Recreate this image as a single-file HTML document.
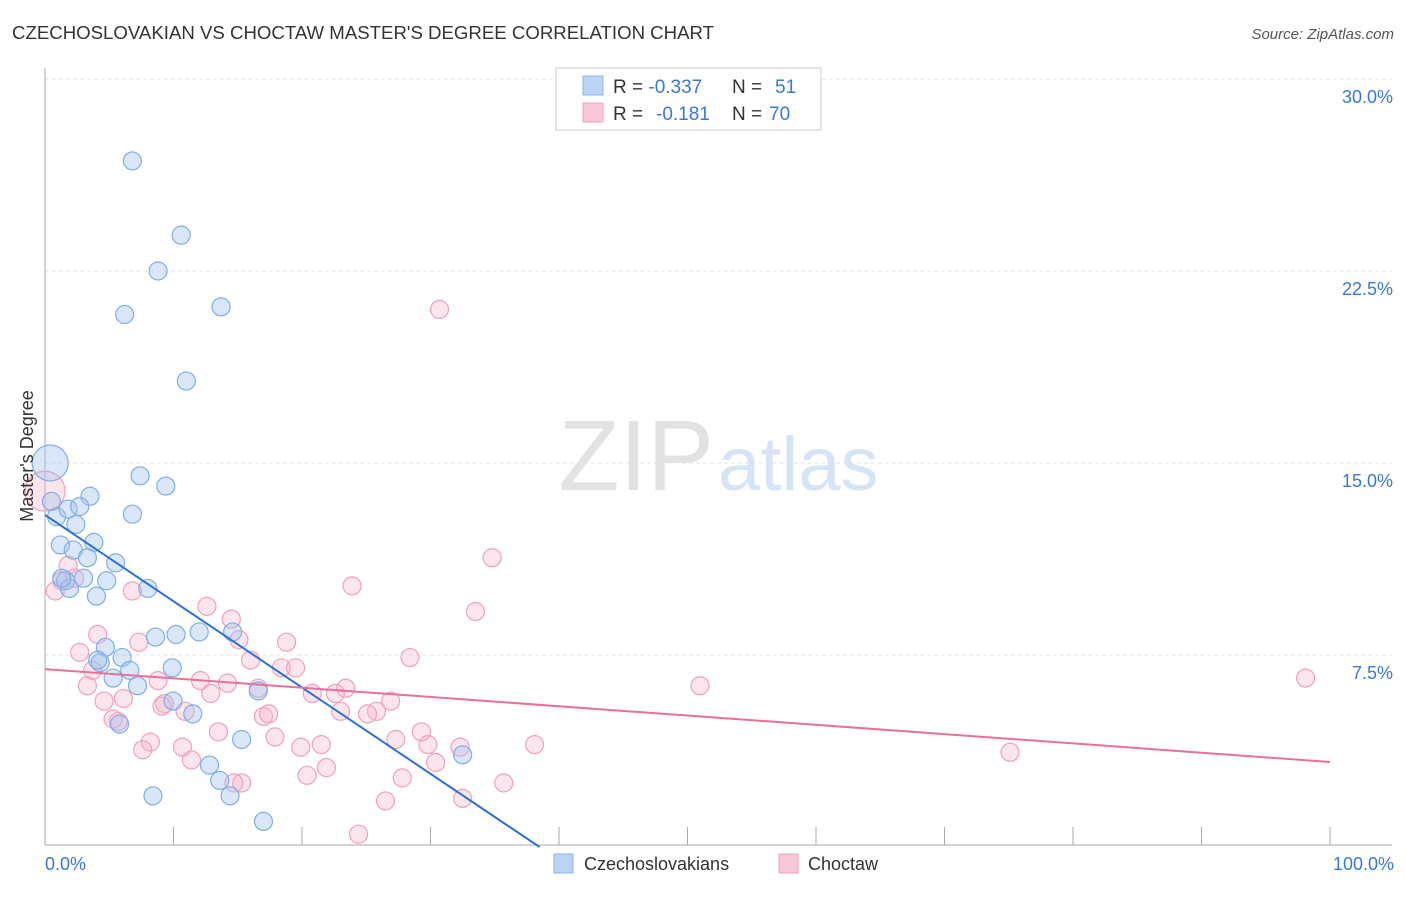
<!DOCTYPE html>
<html><head><meta charset="utf-8"><style>
body{margin:0;background:#fff;font-family:"Liberation Sans",sans-serif;}
svg text{font-family:"Liberation Sans",sans-serif;}
</style></head><body>
<svg width="1406" height="892">
<text x="12" y="39" font-size="18" fill="#333" textLength="702" lengthAdjust="spacingAndGlyphs">CZECHOSLOVAKIAN VS CHOCTAW MASTER'S DEGREE CORRELATION CHART</text>
<text x="1394" y="39" font-size="15" fill="#555" font-style="italic" text-anchor="end">Source: ZipAtlas.com</text>
<g id="grid"></g>
<text x="714" y="490" font-size="100" fill="#e2e2e2" text-anchor="end" font-family="Liberation Serif">ZIP</text>
<text x="718" y="490" font-size="76" fill="#d6e4f6">atlas</text>
<line x1="45" y1="68" x2="45" y2="845" stroke="#aaa"/>
<line x1="45" y1="845" x2="1392" y2="845" stroke="#aaa"/>
<g id="ticks"></g>
<g id="pts"></g>
<g id="lines"></g>
<text x="33" y="456" font-size="18" fill="#333" text-anchor="middle" transform="rotate(-90 33 456)">Master's Degree</text>
<text x="45" y="870" font-size="18" fill="#3a78d4">0.0%</text>
<text x="1394" y="870" font-size="18" fill="#3a78d4" text-anchor="end">100.0%</text>
<g>
<rect x="556" y="68" width="265" height="62" fill="#fff" stroke="#ccc"/>
<rect x="583" y="76" width="20" height="19" fill="#bcd5f5" stroke="#8ab4e8"/>
<rect x="583" y="103" width="20" height="19" fill="#fcc8d8" stroke="#f0a0bc"/>
<text x="613" y="93" font-size="19" fill="#333">R = <tspan fill="#3a78d4">-0.337</tspan><tspan x="732">N = </tspan><tspan x="775" fill="#3a78d4">51</tspan></text>
<text x="613" y="120" font-size="19" fill="#333">R = <tspan x="656" fill="#3a78d4">-0.181</tspan><tspan x="732">N = </tspan><tspan x="769" fill="#3a78d4">70</tspan></text>
</g>
<g>
<rect x="554" y="854" width="19" height="19" fill="#bcd5f5" stroke="#8ab4e8"/>
<text x="584" y="870" font-size="18" fill="#333">Czechoslovakians</text>
<rect x="779" y="854" width="19" height="19" fill="#fcc8d8" stroke="#f0a0bc"/>
<text x="808" y="870" font-size="18" fill="#333">Choctaw</text>
</g>
</svg>
<script>
const yTicks=[7.5,15,22.5,30];
const xTickCount=10;
const blueX=[6.8,10.6,8.8,6.2,13.7,11,0.4,7.4,9.4,3.5,6.8,0.9,1.8,2.7,2.4,1.2,2.2,3.8,3.3,5.5,1.6,1.9,3,4.8,4,8,8.6,10.2,12,14.6,4.7,6,4.3,4.1,6.6,9.9,5.3,7.2,16.6,9.96,11.5,5.8,15.3,32.5,12.8,13.6,8.4,14.4,17,0.5,1.3];
const blueY=[26.8,23.9,22.5,20.8,21.1,18.2,15,14.5,14.1,13.7,13,12.9,13.2,13.3,12.6,11.8,11.6,11.9,11.3,11.1,10.4,10.1,10.5,10.4,9.8,10.1,8.2,8.3,8.4,8.4,7.8,7.4,7.2,7.3,6.9,7,6.6,6.3,6.1,5.7,5.2,4.8,4.2,3.6,3.2,2.6,2,2,1,13.5,10.5];
const blueR=[9,9,9,9,9,9,18,9,9,9,9,9,9,9,9,9,9,9,9,9,9,9,9,9,9,9,9,9,9,9,9,9,9,9,9,9,9,9,9,9,9,9,9,9,9,9,9,9,9,9,9];
const pinkX=[0,30.7,34.8,23.9,0.8,1.8,1.3,2.3,6.8,12.6,14.5,33.5,4.1,7.3,15.1,18.8,2.7,28.4,16,18.4,19.5,3.7,8.8,12.1,14.2,16.6,3.3,50.97,98.1,23.4,20.8,22.6,26.9,6.1,12.9,4.6,9.3,10.9,25.8,25.1,23,9.1,17,17.4,5.3,5.7,13.5,29.3,17.9,27.3,8.2,10.7,19.9,21.5,29.8,32.3,38.1,7.6,11.4,75.1,30.4,21.9,20.4,27.8,15.3,35.7,26.5,32.5,24.4,14.7];
const pinkY=[13.9,21,11.3,10.2,10,11,10.4,10.5,10,9.4,8.9,9.2,8.3,8,8.1,8,7.6,7.4,7.3,7,7,6.9,6.5,6.5,6.4,6.2,6.3,6.3,6.6,6.2,6,6,5.7,5.8,6,5.7,5.6,5.3,5.3,5.2,5.3,5.5,5.1,5.2,5,4.9,4.5,4.5,4.3,4.2,4.1,3.9,3.9,4,4,3.9,4,3.8,3.4,3.7,3.3,3.1,2.8,2.7,2.5,2.5,1.8,1.9,0.5,2.5];
const pinkR=[20,9,9,9,9,9,9,9,9,9,9,9,9,9,9,9,9,9,9,9,9,9,9,9,9,9,9,9,9,9,9,9,9,9,9,9,9,9,9,9,9,9,9,9,9,9,9,9,9,9,9,9,9,9,9,9,9,9,9,9,9,9,9,9,9,9,9,9,9,9];
const blueTrend=[12.97,-0.337];
const pinkTrend=[6.95,-0.0363];
const X=v=>45+v*12.85, Y=v=>847-v*25.6;
const NS='http://www.w3.org/2000/svg';
function mk(t,a,p){const e=document.createElementNS(NS,t);for(const k in a)e.setAttribute(k,a[k]);document.getElementById(p).appendChild(e);return e;}
yTicks.forEach(t=>{
 const l=mk('line',{x1:45,x2:1392,y1:Y(t),y2:Y(t),stroke:'#e3e3e3','stroke-dasharray':'4 3'},'grid');
 
 
 const tx=mk('text',{x:1393,y:Y(t)+24,'font-size':18,fill:'#3a78d4','text-anchor':'end'},'grid');
 tx.textContent=t.toFixed(1)+'%';
 
 
});
for(let i=1;i<=xTickCount;i++){
 const l=mk('line',{x1:X(i*10),x2:X(i*10),y1:827,y2:845,stroke:'#aaa'},'ticks');
 
 
}
function pts(xs,ys,rs,fill,stroke,name){
 xs.forEach((x,i)=>{const c=mk('circle',{cx:X(x),cy:Y(ys[i]),r:rs[i],fill:fill,stroke:stroke,'stroke-width':1.2},'pts');
 
 });
}
pts(pinkX,pinkY,pinkR,'rgba(248,180,202,0.35)','#f0a0bc','choctaw-point');
pts(blueX,blueY,blueR,'rgba(160,196,240,0.4)','#80aee6','czechoslovakian-point');
const bx2=-blueTrend[0]/blueTrend[1];
const bl=mk('line',{x1:X(0),y1:Y(blueTrend[0]),x2:X(bx2),y2:Y(0),stroke:'#2d6fd4','stroke-width':2},'lines');


const pl=mk('line',{x1:X(0),y1:Y(pinkTrend[0]),x2:X(100),y2:Y(pinkTrend[0]+pinkTrend[1]*100),stroke:'#e8709a','stroke-width':2},'lines');


</script>
</body></html>
